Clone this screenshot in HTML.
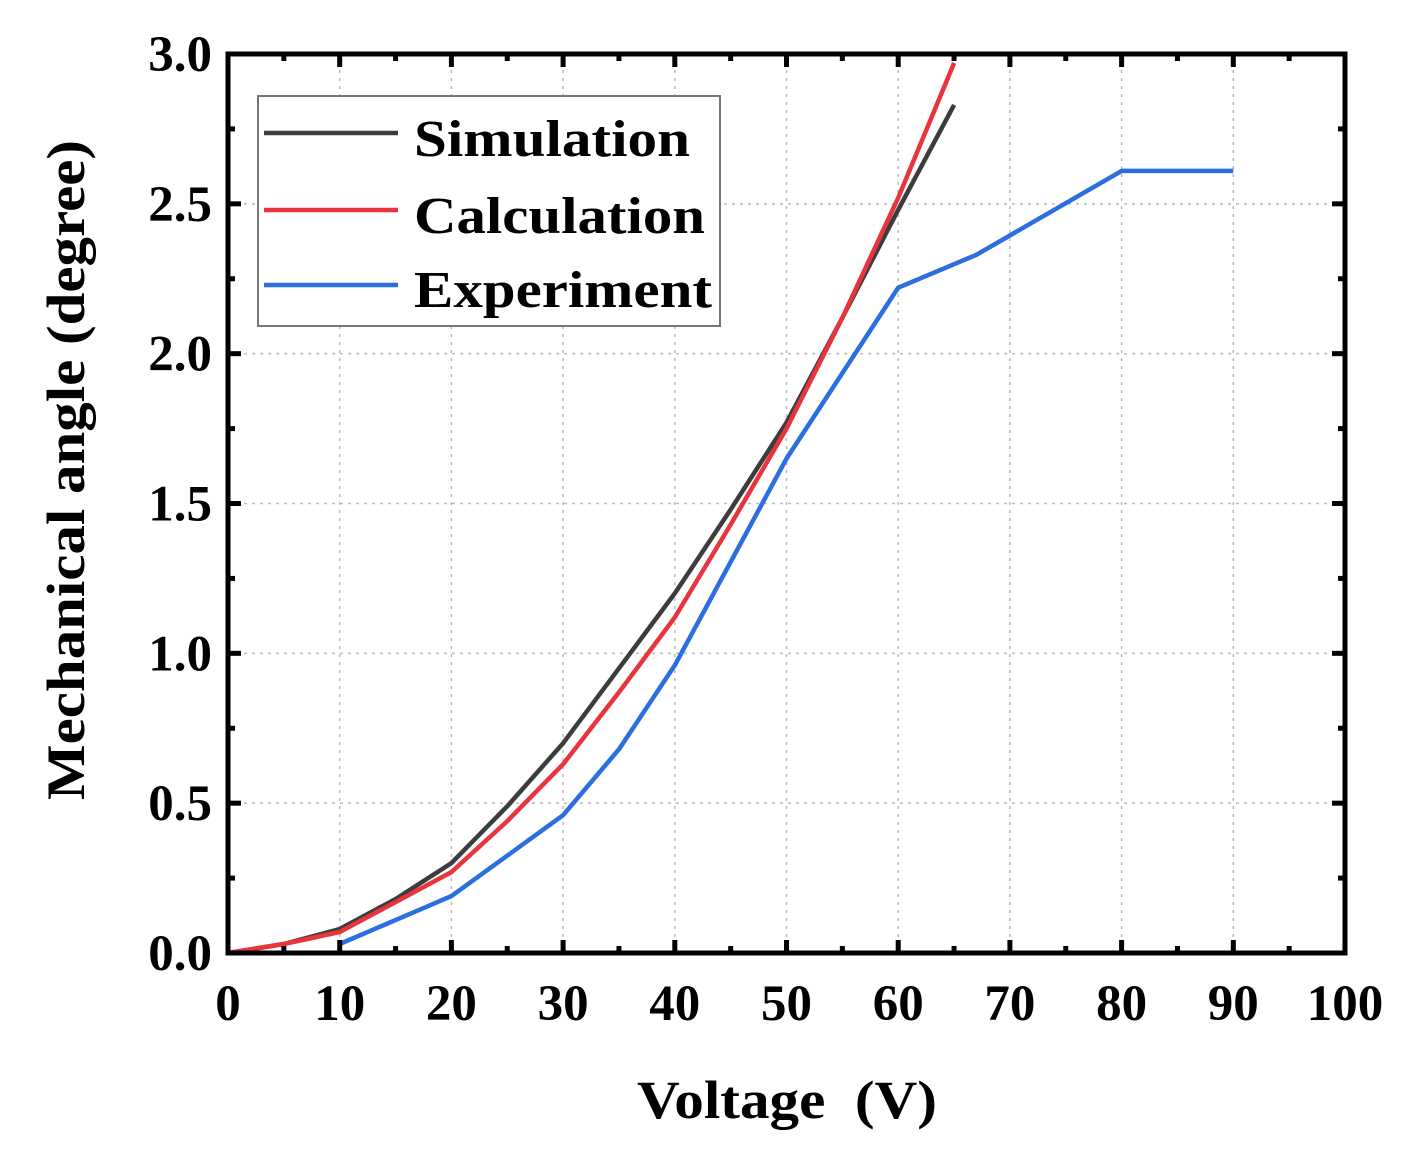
<!DOCTYPE html>
<html><head><meta charset="utf-8"><style>
html,body{margin:0;padding:0;background:#fff;width:1415px;height:1160px;overflow:hidden}
svg text{font-family:"Liberation Serif",serif;font-weight:bold;fill:#000}
</style></head><body>
<svg id="chart" width="1415" height="1160" viewBox="0 0 1415 1160" xmlns="http://www.w3.org/2000/svg">
<g id="grid"></g>
<g id="series"></g>
<rect x="228" y="54" width="1117" height="899" fill="none" stroke="#000" stroke-width="5"/>
<g id="ticks"></g>
<g id="labels"></g>
<g>
<rect x="258" y="96" width="462" height="230" fill="#fff" stroke="#777" stroke-width="2"/>
<line x1="264" y1="133" x2="398" y2="133" stroke="#3c3c3c" stroke-width="4.5"/>
<text x="414" y="156" font-size="52" textLength="276" lengthAdjust="spacingAndGlyphs">Simulation</text>
<line x1="264" y1="210" x2="398" y2="210" stroke="#e8343c" stroke-width="4.5"/>
<text x="414" y="233" font-size="52" textLength="291" lengthAdjust="spacingAndGlyphs">Calculation</text>
<line x1="264" y1="285" x2="398" y2="285" stroke="#2a6ee0" stroke-width="4.5"/>
<text x="414" y="307" font-size="52" textLength="298" lengthAdjust="spacingAndGlyphs">Experiment</text>
</g>
<text x="637" y="1118" font-size="54" textLength="300" lengthAdjust="spacingAndGlyphs" xml:space="preserve">Voltage  (V)</text>
<text transform="translate(84,470) rotate(-90)" font-size="54" text-anchor="middle" textLength="660" lengthAdjust="spacingAndGlyphs">Mechanical angle (degree)</text>
</svg>
<script>
const xTicks=[0,10,20,30,40,50,60,70,80,90,100];
const yTicks=[0,0.5,1.0,1.5,2.0,2.5,3.0];
const yTickLabels=["0.0","0.5","1.0","1.5","2.0","2.5","3.0"];
const simX=[0,5,10,15,20,25,30,35,40,45,50,55,60,65];
const simY=[0,0.03,0.08,0.18,0.30,0.49,0.70,0.95,1.20,1.48,1.77,2.12,2.48,2.83];
const calcX=[0,5,10,15,20,25,30,35,40,45,50,55,60,65];
const calcY=[0,0.03,0.07,0.17,0.27,0.44,0.63,0.87,1.12,1.43,1.75,2.12,2.52,2.97];
const expX=[10,20,30,35,40,50,60,67,80,90];
const expY=[0.03,0.19,0.46,0.68,0.96,1.65,2.22,2.33,2.61,2.61];
const X0=228,X1=1345,Y0=953,Y1=54;
const sx=v=>X0+(v-0)/(100-0)*(X1-X0);
const sy=v=>Y0-(v-0)/(3-0)*(Y0-Y1);
const NS="http://www.w3.org/2000/svg";
function mk(parent,tag,attrs){const e=document.createElementNS(NS,tag);for(const k in attrs)e.setAttribute(k,attrs[k]);document.getElementById(parent).appendChild(e);return e;}
xTicks.forEach(v=>{
  if(v>0&&v<100){const g=mk('grid','line',{x1:sx(v),x2:sx(v),y1:Y0,y2:Y1,stroke:'#bbb','stroke-width':1.5,'stroke-dasharray':'3 5'});
  
  }
  [[Y0,Y0-13],[Y1,Y1+13]].forEach(p=>{const t=mk('ticks','line',{x1:sx(v),x2:sx(v),y1:p[0],y2:p[1],stroke:'#000','stroke-width':5});
  
  });
  if(v<100){[[Y0,Y0-7],[Y1,Y1+7]].forEach(p=>{const t=mk('ticks','line',{x1:sx(v+5),x2:sx(v+5),y1:p[0],y2:p[1],stroke:'#000','stroke-width':5});
  
  });}
  const l=mk('labels','text',{x:sx(v),y:1020,'font-size':51,'text-anchor':'middle'});l.textContent=v;
  
  
});
yTicks.forEach((v,i)=>{
  if(v>0&&v<3){const g=mk('grid','line',{x1:X0,x2:X1,y1:sy(v),y2:sy(v),stroke:'#bbb','stroke-width':1.5,'stroke-dasharray':'3 5'});
  
  }
  [[X0,X0+13],[X1,X1-13]].forEach(p=>{const t=mk('ticks','line',{x1:p[0],x2:p[1],y1:sy(v),y2:sy(v),stroke:'#000','stroke-width':5});
  
  });
  if(v<3){[[X0,X0+7],[X1,X1-7]].forEach(p=>{const t=mk('ticks','line',{x1:p[0],x2:p[1],y1:sy(v+0.25),y2:sy(v+0.25),stroke:'#000','stroke-width':5});
  
  });}
  const l=mk('labels','text',{x:212,y:sy(v)+17,'font-size':51,'text-anchor':'end'});l.textContent=yTickLabels[i];
  
  
});
function line(xs,ys,color,name){
  const d=xs.map((x,i)=>(i?'L':'M')+sx(x).toFixed(1)+','+sy(ys[i]).toFixed(1)).join(' ');
  const p=mk('series','path',{d:d,fill:'none',stroke:color,'stroke-width':4.5,'stroke-linejoin':'round'});
  
  
}
line(simX,simY,'#3c3c3c','simulation-line');
line(calcX,calcY,'#e8343c','calculation-line');
line(expX,expY,'#2a6ee0','experiment-line');
</script>
</body></html>
